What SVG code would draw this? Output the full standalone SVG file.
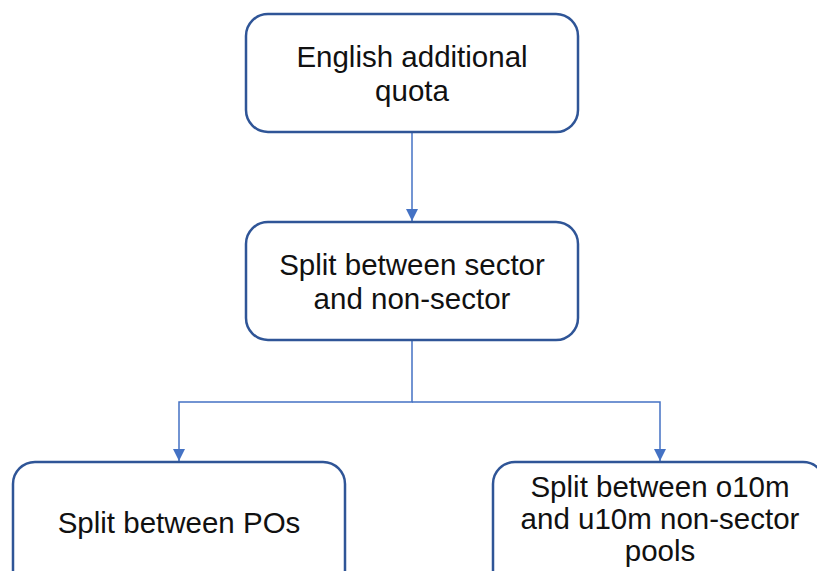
<svg xmlns="http://www.w3.org/2000/svg" width="817" height="571" viewBox="0 0 817 571">
<defs>
<style>
.box{fill:#ffffff;stroke:#2F5597;stroke-width:2.5}
.lbl{font-family:"Liberation Sans",Arial,sans-serif;font-size:29.5px;fill:#111111;text-anchor:middle}
.conn{fill:none;stroke:#4472C4;stroke-width:1.5}
</style>
<marker id="arr" viewBox="0 0 12 12" refX="12" refY="6" markerWidth="12" markerHeight="12" markerUnits="userSpaceOnUse" orient="auto">
<path d="M0,0 L12,6 L0,12 z" fill="#4472C4"/>
</marker>
</defs>
<rect width="817" height="571" fill="#ffffff"/>
<g id="connectors">
<path class="conn" d="M412,132 L412,221" marker-end="url(#arr)"/>
<path class="conn" d="M412,340 L412,402 L179,402 L179,461" marker-end="url(#arr)"/>
<path class="conn" d="M412,402 L660,402 L660,461" marker-end="url(#arr)"/>
</g>
<g id="node-english">
<rect class="box" x="246" y="14" width="332" height="118" rx="22"/>
<text class="lbl" x="412" y="67">English additional</text>
<text class="lbl" x="412" y="101">quota</text>
</g>
<g id="node-split-sector">
<rect class="box" x="246" y="222" width="332" height="118" rx="22"/>
<text class="lbl" x="412" y="275">Split between sector</text>
<text class="lbl" x="412" y="309">and non-sector</text>
</g>
<g id="node-split-pos">
<rect class="box" x="13" y="462" width="332" height="130" rx="22"/>
<text class="lbl" x="179" y="533">Split between POs</text>
</g>
<g id="node-split-pools">
<rect class="box" x="493" y="462" width="332" height="130" rx="22"/>
<text class="lbl" x="660" y="497">Split between o10m</text>
<text class="lbl" x="660" y="529">and u10m non-sector</text>
<text class="lbl" x="660" y="561">pools</text>
</g>
</svg>
